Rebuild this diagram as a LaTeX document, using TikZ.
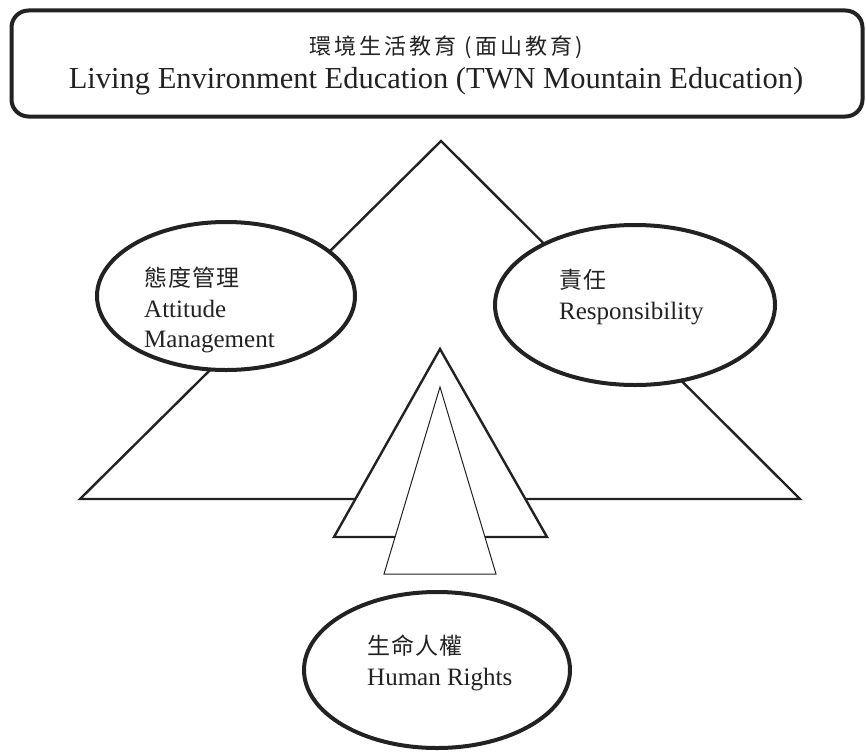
\documentclass[tikz,border=0pt]{standalone}
\usepackage{fontspec}
\setmainfont{Liberation Serif}
\newfontfamily\cjk{Noto Sans CJK TC}
\usetikzlibrary{shapes.geometric}
\definecolor{ink}{HTML}{222222}
\tikzset{
  ellbox/.style={ellipse, draw=ink, line width=4pt, fill=white, inner sep=0pt},
  bigtri/.style={draw=ink, line width=2.4pt, line join=miter},
  midtri/.style={draw=ink, line width=2.4pt, fill=white, line join=miter},
  thintri/.style={draw=ink, line width=1pt, fill=white, line join=miter},
  txt/.style={inner sep=0pt, anchor=base west, text=ink, font=\fontsize{25}{30}\selectfont},
  cjktxt/.style={inner sep=0pt, anchor=base west, text=ink, font=\cjk\addfontfeature{LetterSpace=5}\fontsize{23}{27}\selectfont},
}
\begin{document}
\begin{tikzpicture}[x=1pt,y=-1pt]
\useasboundingbox (0,0) rectangle (866,752);
\fill[white] (0,0) rectangle (866,752);

% title box
\node[draw=ink, line width=4pt, rounded corners=17pt, minimum width=851pt, minimum height=106pt, inner sep=0pt] (title) at (437,63.5) {};
\node[inner sep=0pt, anchor=base, text=ink, font=\cjk\addfontfeature{LetterSpace=14}\fontsize{22}{26}\selectfont] (titlecn) at (446,54) {環境生活教育 (面山教育)};
\node[inner sep=0pt, anchor=base, text=ink, font=\fontsize{30.5}{36}\selectfont] (titleen) at (436,88) {Living Environment Education (TWN Mountain Education)};

% big triangle
\coordinate (A) at (441,141);
\coordinate (B) at (80,499);
\coordinate (C) at (800,499);
\draw[bigtri] (A) -- (B) -- (C) -- cycle;

% left and right ellipses
\node[ellbox, minimum width=258pt, minimum height=148pt] (att) at (226,296) {};
\node[ellbox, minimum width=280pt, minimum height=160pt] (resp) at (635,305) {};

% middle triangle
\coordinate (M1) at (440,349);
\coordinate (M2) at (334,537);
\coordinate (M3) at (547,537);
\draw[midtri] (M1) -- (M2) -- (M3) -- cycle;

% inner triangle
\coordinate (I1) at (440,387);
\coordinate (I2) at (384,574);
\coordinate (I3) at (496,574);
\draw[thintri] (I1) -- (I2) -- (I3) -- cycle;

% bottom ellipse
\node[ellbox, minimum width=266pt, minimum height=156pt] (hr) at (437,670) {};

% texts
\node[cjktxt] (attcn) at (144,286) {態度管理};
\node[txt] (atten1) at (144,317) {Attitude};
\node[txt] (atten2) at (144,347) {Management};

\node[cjktxt] (respcn) at (559,288) {責任};
\node[txt] (respen) at (559,319) {Responsibility};

\node[cjktxt] (hrcn) at (367,654) {生命人權};
\node[txt] (hren) at (367,685) {Human Rights};
\end{tikzpicture}
\end{document}
